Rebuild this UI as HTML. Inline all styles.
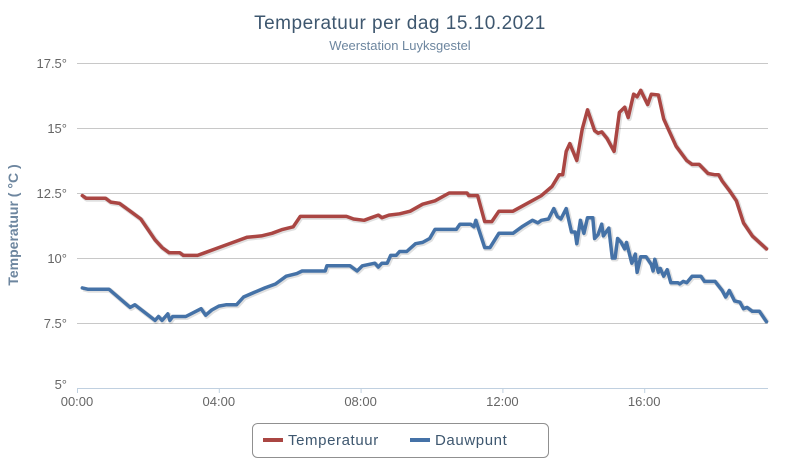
<!DOCTYPE html>
<html><head><meta charset="utf-8"><style>
body{margin:0;background:#fff;font-family:"Liberation Sans","DejaVu Sans",sans-serif}
svg{display:block}
</style></head><body>
<svg id="chart" width="800" height="475" xmlns="http://www.w3.org/2000/svg">
<rect width="800" height="475" fill="#fff"/>
<text x="400" y="29" text-anchor="middle" font-size="19" fill="#3e576f" style="letter-spacing:0.5px">Temperatuur per dag 15.10.2021</text>
<text x="400" y="50" text-anchor="middle" font-size="13" fill="#6d869f">Weerstation Luyksgestel</text>
<text transform="translate(18,225) rotate(-90)" text-anchor="middle" font-size="14" font-weight="bold" fill="#6d869f">Temperatuur ( °C )</text>
<g id="grid"></g><g id="series"></g>
<g>
<rect x="252.5" y="423.5" width="296" height="34" rx="5" fill="#fff" stroke="#909090"/>
<g>
<line x1="263" y1="440" x2="283" y2="440" stroke="#aa4643" stroke-width="4"/>
<text x="288" y="445" font-size="15" fill="#3e576f" style="letter-spacing:0.6px">Temperatuur</text></g>
<g>
<line x1="410" y1="440" x2="430" y2="440" stroke="#4572a7" stroke-width="4"/>
<text x="435" y="445" font-size="15" fill="#3e576f" style="letter-spacing:0.6px">Dauwpunt</text></g>
</g>
</svg>
<script>
const yTicks=[5,7.5,10,12.5,15,17.5];
const yTickLabels=["5°","7.5°","10°","12.5°","15°","17.5°"];
const xTicks=[0,4,8,12,16];
const xTickLabels=["00:00","04:00","08:00","12:00","16:00"];
const tempHours=[0.15,0.25,0.8,0.95,1.2,1.5,1.8,2.0,2.2,2.4,2.6,2.9,3.0,3.4,3.6,3.9,4.2,4.5,4.8,5.2,5.5,5.8,6.1,6.3,7.6,7.8,8.1,8.3,8.5,8.6,8.8,9.1,9.4,9.75,10.1,10.5,11.0,11.05,11.2,11.3,11.5,11.7,11.9,12.3,13.1,13.4,13.6,13.7,13.8,13.9,14.1,14.25,14.4,14.6,14.7,14.8,14.95,15.15,15.3,15.45,15.55,15.7,15.8,15.9,16.1,16.2,16.4,16.55,16.65,16.9,17.2,17.35,17.55,17.8,18.0,18.1,18.2,18.4,18.6,18.8,19.05,19.25,19.45];
const tempValues=[12.4,12.3,12.3,12.15,12.1,11.8,11.5,11.1,10.7,10.4,10.2,10.2,10.1,10.1,10.2,10.35,10.5,10.65,10.8,10.85,10.95,11.1,11.2,11.6,11.6,11.5,11.45,11.55,11.65,11.55,11.65,11.7,11.8,12.07,12.2,12.5,12.5,12.4,12.4,12.4,11.4,11.4,11.8,11.8,12.4,12.75,13.2,13.2,14.1,14.4,13.75,14.95,15.7,14.9,14.8,14.85,14.6,14.1,15.6,15.8,15.4,16.3,16.2,16.45,15.9,16.3,16.27,15.35,15.05,14.3,13.75,13.6,13.6,13.25,13.2,13.2,12.96,12.6,12.2,11.35,10.85,10.6,10.35];
const dewHours=[0.15,0.3,0.9,1.5,1.63,2.2,2.3,2.4,2.56,2.62,2.7,3.07,3.5,3.63,3.8,4.0,4.2,4.5,4.7,4.95,5.3,5.6,5.9,6.2,6.35,7.0,7.05,7.7,7.9,8.05,8.4,8.5,8.6,8.75,8.85,9.0,9.1,9.3,9.55,9.75,9.95,10.1,10.7,10.8,11.1,11.2,11.25,11.5,11.65,11.9,12.3,12.55,12.85,13.0,13.1,13.3,13.45,13.55,13.65,13.8,13.95,14.05,14.1,14.2,14.3,14.4,14.55,14.6,14.7,14.8,14.85,15.0,15.1,15.18,15.25,15.35,15.45,15.5,15.65,15.75,15.8,15.9,16.05,16.2,16.25,16.3,16.4,16.45,16.55,16.65,16.75,16.95,17.0,17.1,17.2,17.35,17.6,17.7,18.0,18.2,18.3,18.4,18.55,18.7,18.8,18.9,19.05,19.25,19.45];
const dewValues=[8.85,8.8,8.8,8.1,8.2,7.6,7.75,7.6,7.85,7.6,7.75,7.75,8.05,7.8,8.0,8.15,8.2,8.2,8.5,8.65,8.85,9.0,9.3,9.4,9.5,9.5,9.7,9.7,9.5,9.7,9.8,9.65,9.8,9.8,10.1,10.1,10.25,10.25,10.55,10.6,10.75,11.1,11.1,11.3,11.3,11.2,11.45,10.4,10.4,10.95,10.95,11.2,11.45,11.35,11.45,11.5,11.9,11.6,11.5,11.9,11.0,11.0,10.55,11.45,10.95,11.55,11.55,10.75,10.9,11.3,10.85,11.15,10.0,10.0,10.75,10.6,10.35,10.6,9.8,10.15,9.45,10.05,10.05,9.75,9.5,9.95,9.45,9.6,9.3,9.55,9.05,9.05,9.0,9.1,9.05,9.3,9.3,9.1,9.1,8.75,8.5,8.75,8.35,8.3,8.05,8.1,7.95,7.95,7.55];
const NS="http://www.w3.org/2000/svg";
function xs(h){return 77+h*35.45;}
function ys(v){return 388-(v-5)*26;}
const grid=document.getElementById('grid');
yTicks.forEach((t,i)=>{
  const l=document.createElementNS(NS,'line');
  l.setAttribute('x1',77);l.setAttribute('x2',768);
  l.setAttribute('y1',ys(t)+0.5);l.setAttribute('y2',ys(t)+0.5);
  l.setAttribute('stroke',i===0?'#c0d0e0':'#c8c8c8');l.setAttribute('stroke-width',1);
  
  
  grid.appendChild(l);
  const tx=document.createElementNS(NS,'text');
  tx.setAttribute('x',67);tx.setAttribute('y',ys(t)+(i===0?1:5));
  tx.setAttribute('text-anchor','end');tx.setAttribute('font-size','13');tx.setAttribute('fill','#666');
  tx.textContent=yTickLabels[i];
  
  
  grid.appendChild(tx);
});
xTicks.forEach((t,i)=>{
  const l=document.createElementNS(NS,'line');
  l.setAttribute('x1',xs(t)+0.5);l.setAttribute('x2',xs(t)+0.5);
  l.setAttribute('y1',388);l.setAttribute('y2',393);
  l.setAttribute('stroke','#c0d0e0');
  
  
  grid.appendChild(l);
  const tx=document.createElementNS(NS,'text');
  tx.setAttribute('x',xs(t));tx.setAttribute('y',406);
  tx.setAttribute('text-anchor','middle');tx.setAttribute('font-size','13');tx.setAttribute('fill','#666');
  tx.textContent=xTickLabels[i];
  
  
  grid.appendChild(tx);
});
const ser=document.getElementById('series');
function draw(hours,vals,color,name){
  const d=hours.map((h,i)=>(i?'L':'M')+xs(h).toFixed(1)+' '+ys(vals[i]).toFixed(1)).join(' ');
  const sh=document.createElementNS(NS,'path');
  sh.setAttribute('d',d);sh.setAttribute('fill','none');sh.setAttribute('stroke','rgba(0,0,0,0.12)');
  sh.setAttribute('stroke-width',5);sh.setAttribute('transform','translate(1,1)');sh.setAttribute('stroke-linejoin','round');
  
  
  ser.appendChild(sh);
  const p=document.createElementNS(NS,'path');
  p.setAttribute('d',d);p.setAttribute('fill','none');p.setAttribute('stroke',color);
  p.setAttribute('stroke-width',3.5);p.setAttribute('stroke-linejoin','round');p.setAttribute('stroke-linecap','round');
  
  
  ser.appendChild(p);
}
draw(dewHours,dewValues,'#4572a7','dauwpunt');
draw(tempHours,tempValues,'#aa4643','temperatuur');
</script>
</body></html>
